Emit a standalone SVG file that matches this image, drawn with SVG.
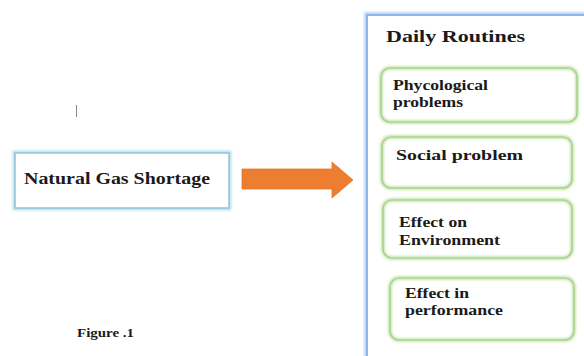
<svg xmlns="http://www.w3.org/2000/svg" width="584" height="356" viewBox="0 0 584 356">
<defs>
<style>
.t{font-family:"Liberation Serif","Times New Roman",serif;font-weight:bold;fill:#1a1a1a}
.g{fill:#ffffff;stroke:#c6e5b0;stroke-width:4}
.gi{fill:none;stroke:#9fcf80;stroke-width:1.2}
</style>
<filter id="blur" x="-10%" y="-10%" width="120%" height="120%"><feGaussianBlur stdDeviation="1"/></filter>
</defs>
<rect width="584" height="356" fill="#ffffff"/>
<g id="gas-shortage">
<rect x="15" y="153" width="214" height="55" fill="#ffffff" stroke="#bfe0ee" stroke-width="5" filter="url(#blur)"/>
<rect x="15" y="153" width="214" height="55" fill="#ffffff" stroke="#8ec3d9" stroke-width="1.5"/>
<text class="t" x="24" y="184" font-size="16" textLength="186" lengthAdjust="spacingAndGlyphs">Natural Gas Shortage</text>
</g>
<g id="connectors">
<path d="M242,169 H332 V162 L353,180 L332,198 V189 H242 Z" fill="#ED7D31" stroke="#e07828" stroke-width="0.8"/>
</g>
<g id="daily-routines">
<rect x="367" y="15" width="230" height="350" fill="#ffffff" stroke="#bcd5f3" stroke-width="6" filter="url(#blur)"/>
<rect x="367" y="15" width="230" height="350" fill="#ffffff" stroke="#8fb6e8" stroke-width="2"/>
<text class="t" x="386" y="42" font-size="17.5" textLength="139" lengthAdjust="spacingAndGlyphs">Daily Routines</text>
</g>
<g id="phycological">
<rect class="g" x="381" y="68" width="196" height="54" rx="9" filter="url(#blur)"/>
<rect class="gi" x="381" y="68" width="196" height="54" rx="9"/>
<text class="t" x="393" y="90" font-size="14" textLength="95" lengthAdjust="spacingAndGlyphs">Phycological</text>
<text class="t" x="393" y="107" font-size="14" textLength="70" lengthAdjust="spacingAndGlyphs">problems</text>
</g>
<g id="social">
<rect class="g" x="382" y="137" width="190" height="51" rx="9" filter="url(#blur)"/>
<rect class="gi" x="382" y="137" width="190" height="51" rx="9"/>
<text class="t" x="396" y="160" font-size="15.5" textLength="127" lengthAdjust="spacingAndGlyphs">Social problem</text>
</g>
<g id="environment">
<rect class="g" x="383" y="200" width="189" height="58" rx="9" filter="url(#blur)"/>
<rect class="gi" x="383" y="200" width="189" height="58" rx="9"/>
<text class="t" x="399" y="227" font-size="14" textLength="68" lengthAdjust="spacingAndGlyphs">Effect on</text>
<text class="t" x="399" y="245" font-size="14" textLength="101" lengthAdjust="spacingAndGlyphs">Environment</text>
</g>
<g id="performance">
<rect class="g" x="390" y="278" width="184" height="62" rx="9" filter="url(#blur)"/>
<rect class="gi" x="390" y="278" width="184" height="62" rx="9"/>
<text class="t" x="405" y="298" font-size="14" textLength="64" lengthAdjust="spacingAndGlyphs">Effect in</text>
<text class="t" x="405" y="315" font-size="14" textLength="98" lengthAdjust="spacingAndGlyphs">performance</text>
</g>
<line x1="76.5" y1="105" x2="76.5" y2="117" stroke="#888888" stroke-width="1"/>
<text class="t" x="77" y="337" font-size="12" textLength="57" lengthAdjust="spacingAndGlyphs">Figure .1</text>
</svg>
